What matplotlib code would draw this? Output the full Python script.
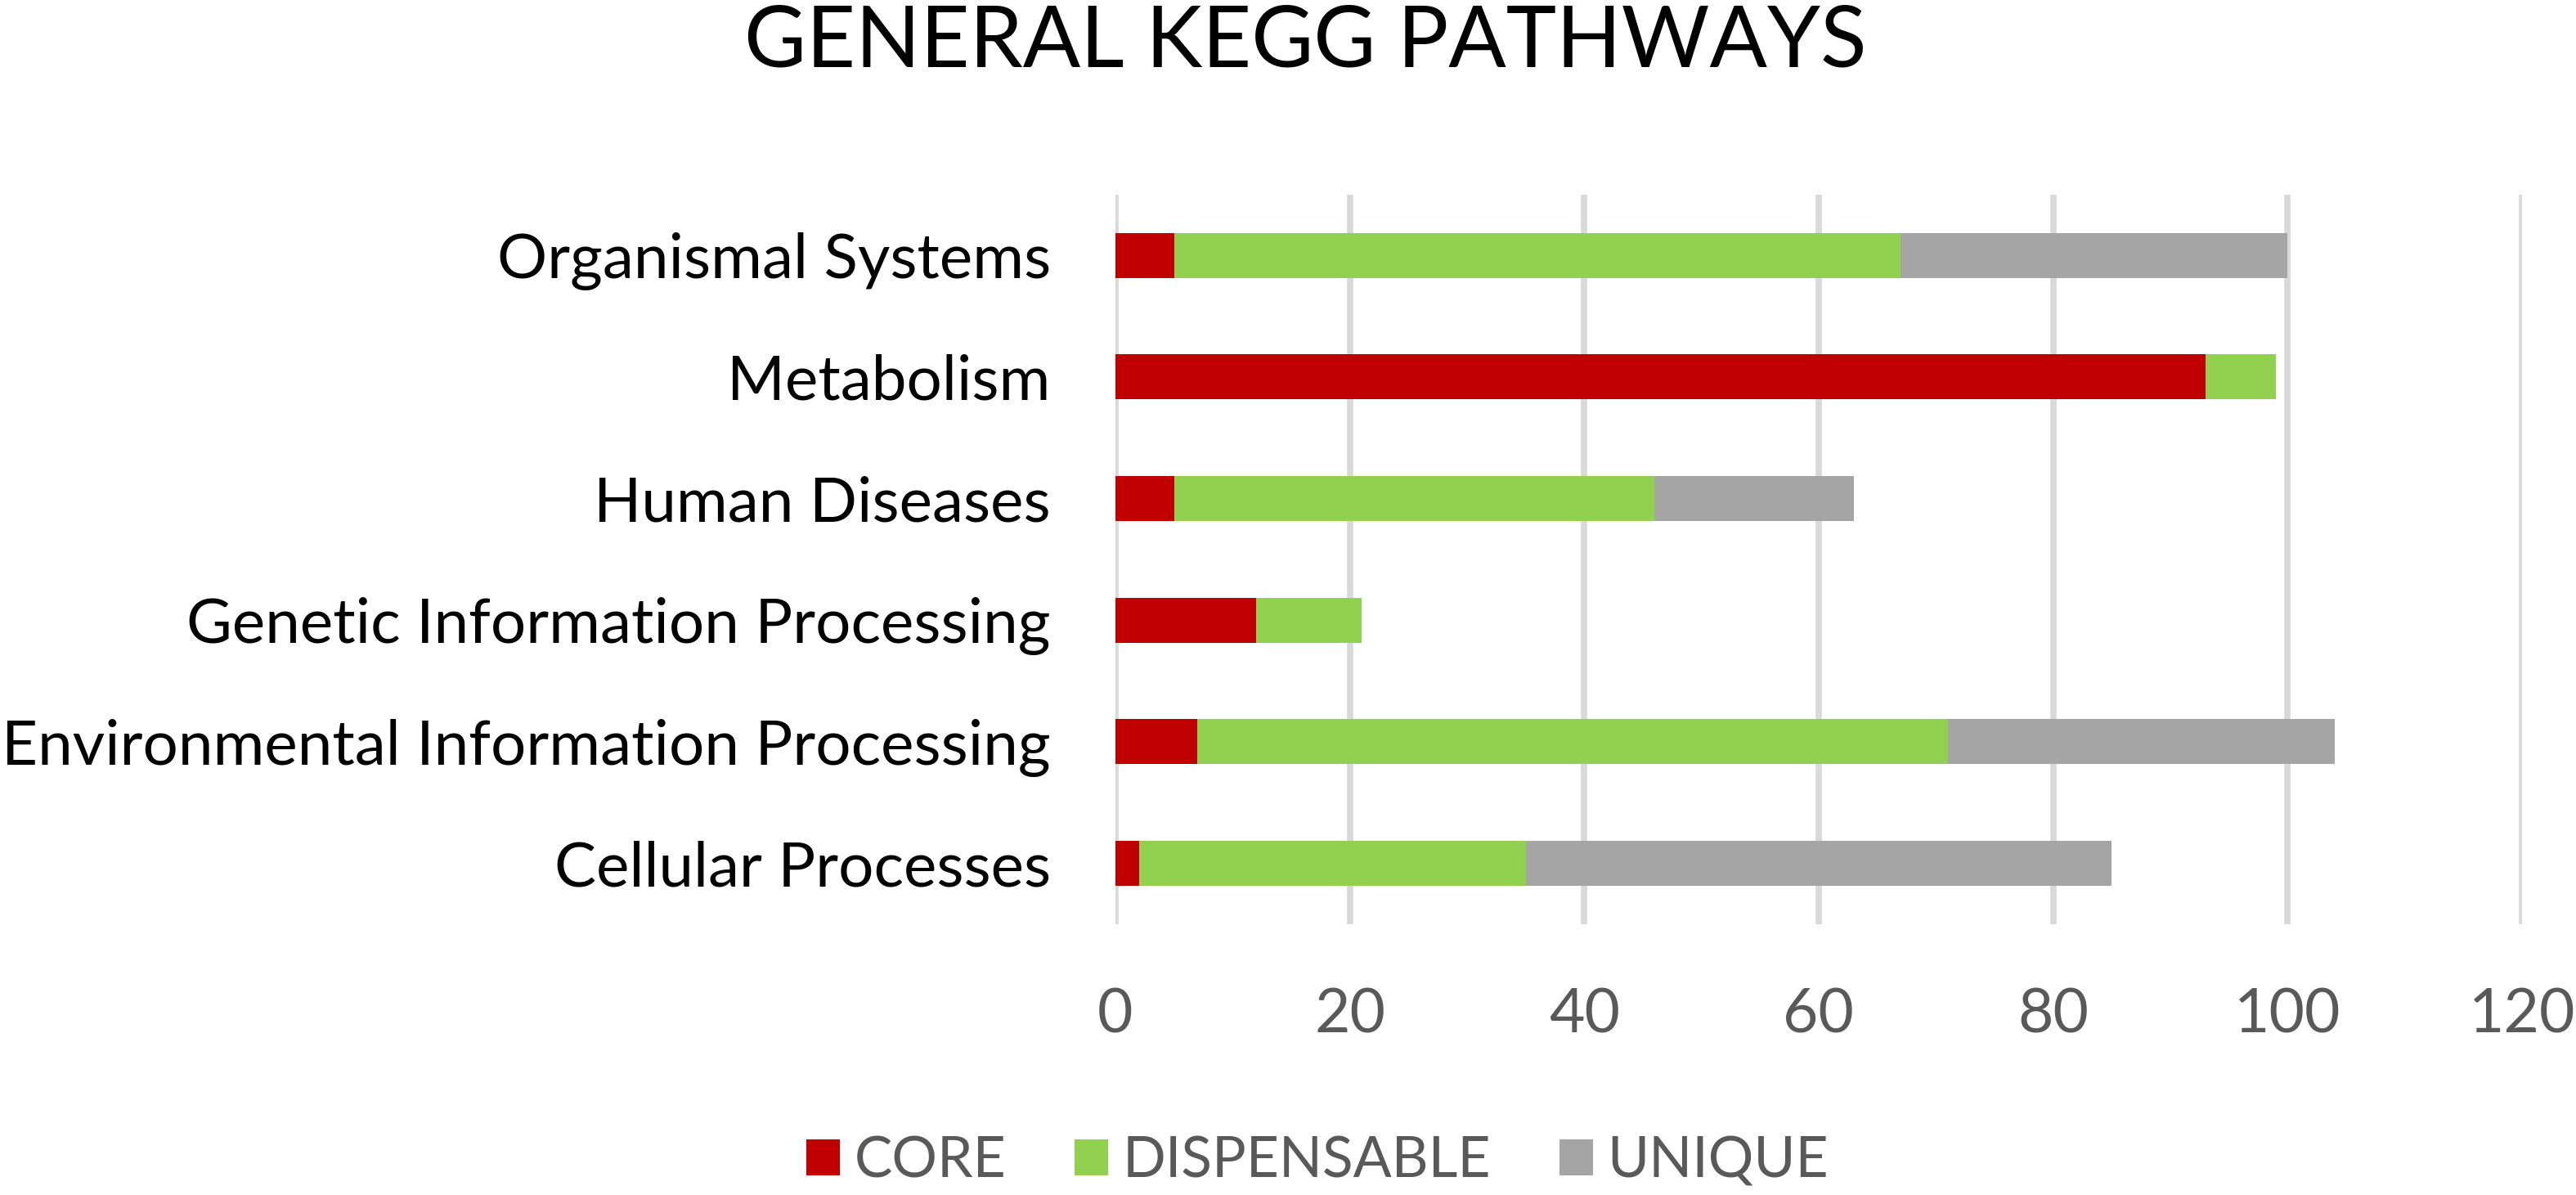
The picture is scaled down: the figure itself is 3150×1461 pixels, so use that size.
import matplotlib
matplotlib.use("Agg")
import matplotlib.pyplot as plt
from matplotlib.patches import Patch

plt.rcParams['font.family'] = ['Lato', 'DejaVu Sans']

categories = ["Cellular Processes", "Environmental Information Processing",
              "Genetic Information Processing", "Human Diseases",
              "Metabolism", "Organismal Systems"]
core = [2, 7, 12, 5, 93, 5]
dispensable = [33, 64, 9, 41, 6, 62]
unique = [50, 33, 0, 17, 0, 33]
series_names = ["CORE", "DISPENSABLE", "UNIQUE"]
colors = ["#C00000", "#92D050", "#A5A5A5"]
xticks = [0, 20, 40, 60, 80, 100, 120]
title = "GENERAL KEGG PATHWAYS"

fig = plt.figure(figsize=(31.5, 14.61), dpi=100)
ax = fig.add_axes([0.4330, 0.2266, 0.9790 - 0.4330, 0.8371 - 0.2266])

y = list(range(len(categories)))
left2 = [a for a in core]
left3 = [a + b for a, b in zip(core, dispensable)]
h = 0.37
ax.barh(y, core, height=h, color=colors[0], label=series_names[0], zorder=3)
ax.barh(y, dispensable, left=left2, height=h, color=colors[1], label=series_names[1], zorder=3)
ax.barh(y, unique, left=left3, height=h, color=colors[2], label=series_names[2], zorder=3)

ax.set_xlim(0, 120)
ax.set_ylim(-0.5, len(categories) - 0.5)
ax.set_xticks(xticks)
ax.set_xticklabels([str(t) for t in xticks])
ax.set_yticks(y)
ax.set_yticklabels(categories)
for s in ax.spines.values():
    s.set_visible(False)
ax.xaxis.grid(True, color="#D9D9D9", linewidth=5.5, zorder=0)
ax.set_axisbelow(True)
ax.tick_params(axis='x', length=0, pad=55, labelsize=54, labelcolor="#595959")
ax.tick_params(axis='y', length=0, pad=57, labelsize=55, labelcolor="#000000")

fig.text(0.5067, 1 - 52 / 1461, title, ha='center', va='center', fontsize=75, color="#000000")

handles = [Patch(facecolor=c, edgecolor='none', label=n) for c, n in zip(colors, series_names)]
leg = fig.legend(handles=handles, loc='center', bbox_to_anchor=(0.5114, 0.028), ncol=3,
                 frameon=False, fontsize=50, handlelength=0.6, handleheight=0.6,
                 handletextpad=0.25, columnspacing=1.2, borderpad=0, borderaxespad=0)
for t in leg.get_texts():
    t.set_color("#595959")

fig.savefig("out.png", dpi=100, facecolor="white")
